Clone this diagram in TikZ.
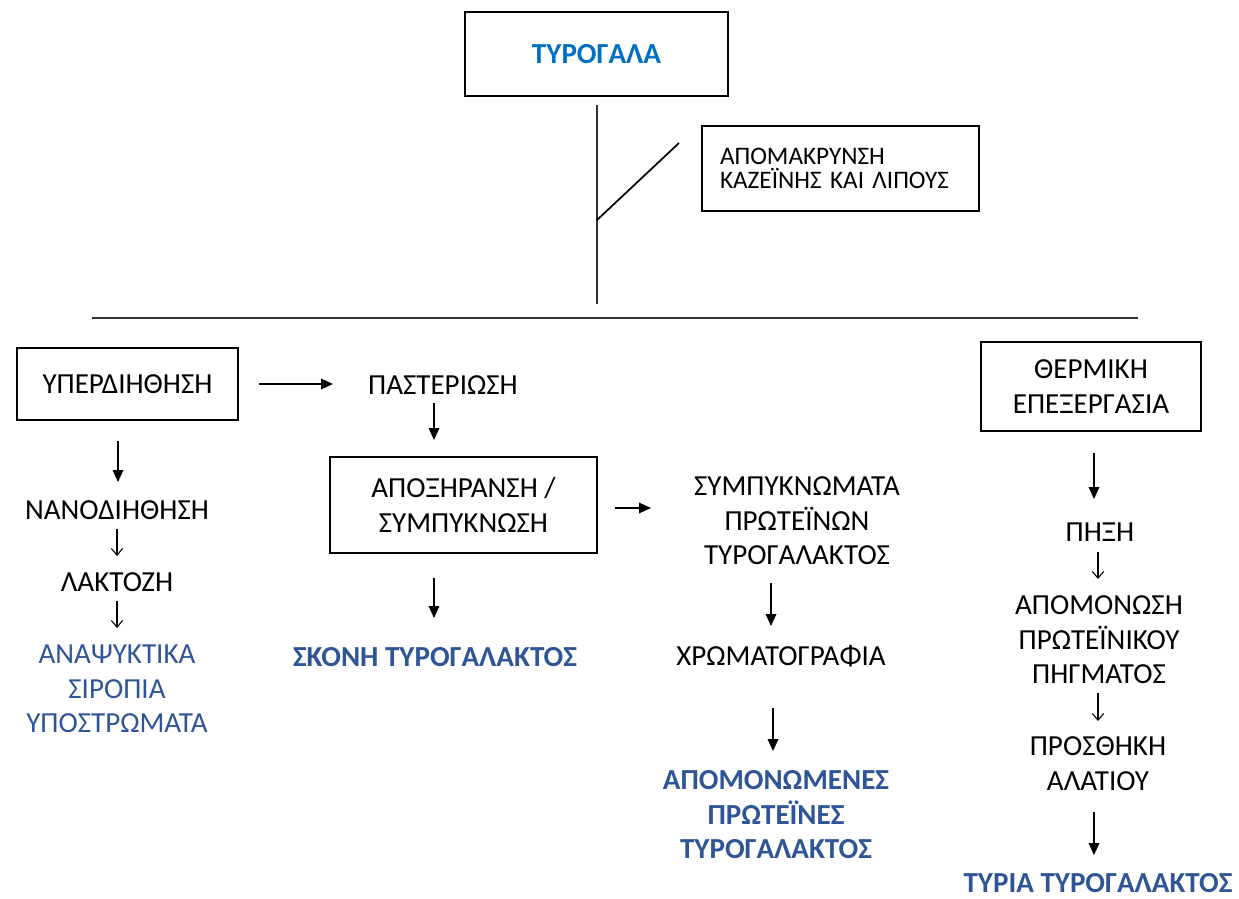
\documentclass[tikz,border=0pt]{standalone}
\usepackage{fontspec}
\setmainfont{Carlito}
\usetikzlibrary{arrows.meta}
\definecolor{topblue}{HTML}{0070C0}
\definecolor{prodblue}{HTML}{2F5597}
\newcommand{\mainsize}{\fontsize{21.8}{25.9}\selectfont}
\tikzset{
  box/.style={draw=black, line width=1.5pt, inner sep=0pt, align=center, font=\mainsize},
  txt/.style={inner sep=0pt, align=center, font=\mainsize},
  prod/.style={txt, text=prodblue},
  bigarrow/.style={line width=0.9pt, -{Triangle[length=9pt,width=8pt]}},
  smallarrow/.style={line width=0.8pt, -{Straight Barb[length=5pt,width=8.5pt]}},
  plainline/.style={line width=0.8pt, draw=black!80}
}
\begin{document}
\begin{tikzpicture}[x=0.75pt, y=-0.75pt]
\useasboundingbox (0,0) rectangle (1239,899);
% boxes
\node[box, minimum width=263*0.75pt, minimum height=84*0.75pt, text=topblue, font=\mainsize\bfseries] (tyro) at (596.5,54) {ΤΥΡΟΓΑΛΑ};
\node[box, minimum height=85*0.75pt, inner xsep=13.5pt, text width=241*0.75pt, align=left, font=\fontsize{18.9}{18.4}\selectfont] (apom) at (840.5,168.5) {ΑΠΟΜΑΚΡΥΝΣΗ\\ΚΑΖΕΪΝΗΣ ΚΑΙ ΛΙΠΟΥΣ};
\node[box, minimum width=221*0.75pt, minimum height=72*0.75pt] (yper) at (127.5,384) {ΥΠΕΡΔΙΗΘΗΣΗ};
\node[box, minimum width=267*0.75pt, minimum height=96*0.75pt] (apox) at (463.5,505) {ΑΠΟΞΗΡΑΝΣΗ /\\ΣΥΜΠΥΚΝΩΣΗ};
\node[box, minimum width=220*0.75pt, minimum height=89*0.75pt] (therm) at (1091,386.5) {ΘΕΡΜΙΚΗ\\ΕΠΕΞΕΡΓΑΣΙΑ};
% text nodes
\node[txt] (past) at (443,385) {ΠΑΣΤΕΡΙΩΣΗ};
\node[txt] (synp) at (797,521) {ΣΥΜΠΥΚΝΩΜΑΤΑ\\ΠΡΩΤΕΪΝΩΝ\\ΤΥΡΟΓΑΛΑΚΤΟΣ};
\node[txt] (chrom) at (781,656) {ΧΡΩΜΑΤΟΓΡΑΦΙΑ};
\node[prod, font=\mainsize\bfseries] (apomen) at (776,815) {ΑΠΟΜΟΝΩΜΕΝΕΣ\\ΠΡΩΤΕΪΝΕΣ\\ΤΥΡΟΓΑΛΑΚΤΟΣ};
\node[prod, font=\mainsize\bfseries] (skoni) at (435,657) {ΣΚΟΝΗ ΤΥΡΟΓΑΛΑΚΤΟΣ};
\node[txt] (nano) at (117,510) {ΝΑΝΟΔΙΗΘΗΣΗ};
\node[txt] (lakt) at (117,582) {ΛΑΚΤΟΖΗ};
\node[prod] (anap) at (117,689) {ΑΝΑΨΥΚΤΙΚΑ\\ΣΙΡΟΠΙΑ\\ΥΠΟΣΤΡΩΜΑΤΑ};
\node[txt] (pixi) at (1100,532) {ΠΗΞΗ};
\node[txt] (apomon) at (1099,640) {ΑΠΟΜΟΝΩΣΗ\\ΠΡΩΤΕΪΝΙΚΟΥ\\ΠΗΓΜΑΤΟΣ};
\node[txt] (prosth) at (1098,763.5) {ΠΡΟΣΘΗΚΗ\\ΑΛΑΤΙΟΥ};
\node[prod, font=\mainsize\bfseries] (tyria) at (1098,883) {ΤΥΡΙΑ ΤΥΡΟΓΑΛΑΚΤΟΣ};
% top lines
\draw[plainline] (tyro.south) ++(0.5,8) -- ++(0,199);
\coordinate (br) at (597,220);
\draw[line width=1.3pt] (br) -- ([shift={(-22,-25.5)}]apom.west);
\coordinate (hlL) at (92,318);
\coordinate (hlR) at (1138,318);
\draw[plainline] (hlL) -- (hlR);
% arrows
\draw[bigarrow] (yper.east) ++(20,0) -- ++(74,0);
\draw[bigarrow] (past) ++(-9,18) -- ++(0,37);
\draw[bigarrow] (apox.east) ++(17,3) -- ++(36,0);
\draw[bigarrow] (skoni) ++(-1,-79) -- ++(0,40);
\draw[bigarrow] (synp) ++(-26,62) -- ++(0,43);
\draw[bigarrow] (chrom) ++(-8,52) -- ++(0,43);
\draw[bigarrow] (yper.south) ++(-9.5,20) -- ++(0,41);
\draw[smallarrow] (nano) ++(0,19) -- ++(0,27);
\draw[smallarrow] (lakt) ++(0,19) -- ++(0,27);
\draw[bigarrow] (therm.south) ++(3,21) -- ++(0,46);
\draw[smallarrow] (pixi) ++(-2,20) -- ++(0,27);
\draw[smallarrow] (apomon) ++(-1,53) -- ++(0,28);
\draw[bigarrow] (prosth.center) ++(-4,48.5) -- ++(0,43);
\end{tikzpicture}
\end{document}
